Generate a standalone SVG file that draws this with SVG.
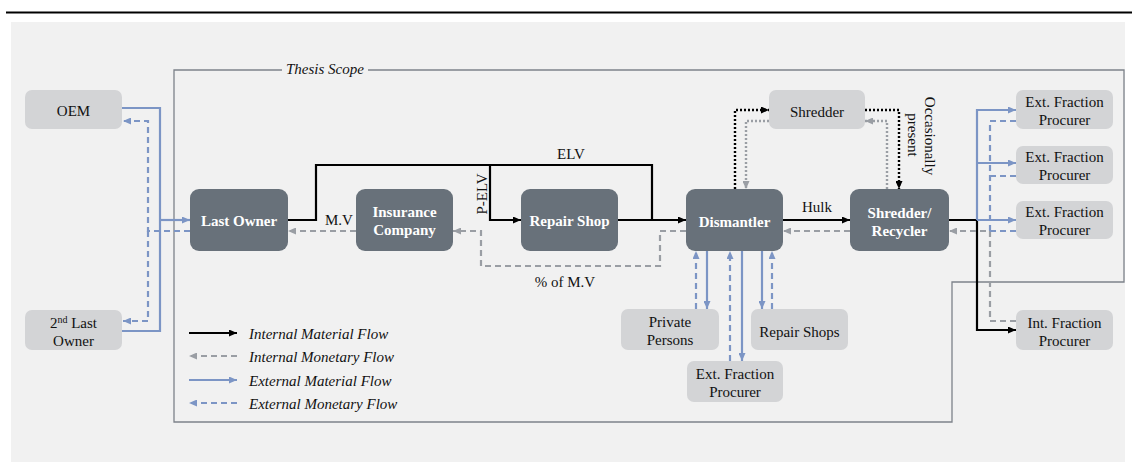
<svg xmlns="http://www.w3.org/2000/svg" width="1132" height="462" viewBox="0 0 1132 462">
<style>
text{font-family:"Liberation Serif","Times New Roman",serif;font-size:15px;fill:#111;}
.dk rect{fill:#68717a;}
.dk text{fill:#fff;font-weight:bold;text-anchor:middle;}
.lt rect{fill:#d3d4d6;}
.lt text{text-anchor:middle;}
.lbl{text-anchor:middle;}
.it{font-style:italic;}
.k{fill:none;stroke:#000;stroke-width:2.2;}
.g{fill:none;stroke:#9a9ea4;stroke-width:2.2;stroke-dasharray:6 4;}
.b{fill:none;stroke:#7c95c5;stroke-width:2.2;}
.bd{fill:none;stroke:#7c95c5;stroke-width:2.2;stroke-dasharray:6 4;}
.kd{fill:none;stroke:#000;stroke-width:2.4;stroke-dasharray:2 2;}
.gd{fill:none;stroke:#9a9ea4;stroke-width:2.4;stroke-dasharray:2 2;}
</style>
<defs>
<marker id="ak" viewBox="0 0 8 7" refX="8" refY="3.5" markerWidth="8" markerHeight="7" markerUnits="userSpaceOnUse" orient="auto"><path d="M0,0 L8,3.5 L0,7 z" fill="#000"/></marker>
<marker id="ag" viewBox="0 0 8 7" refX="8" refY="3.5" markerWidth="8" markerHeight="7" markerUnits="userSpaceOnUse" orient="auto"><path d="M0,0 L8,3.5 L0,7 z" fill="#9a9ea4"/></marker>
<marker id="ab" viewBox="0 0 8 7" refX="8" refY="3.5" markerWidth="8" markerHeight="7" markerUnits="userSpaceOnUse" orient="auto"><path d="M0,0 L8,3.5 L0,7 z" fill="#7c95c5"/></marker>
</defs>
<rect x="0" y="0" width="1132" height="462" fill="#ffffff"/>
<line x1="6" y1="12.5" x2="1132" y2="12.5" stroke="#000" stroke-width="2.2"/>
<rect x="11" y="22" width="1114" height="440" fill="#f1f1f1"/>
<path d="M368,70 H1124 V282 H952 V422 H174 V70 H282" fill="none" stroke="#7d838a" stroke-width="1.3"/>
<text x="325" y="74" class="lbl it">Thesis Scope</text>

<g id="connectors">
<path class="b" d="M122,108 H160 V331 H122"/>
<path class="b" d="M160,220 H190" marker-end="url(#ab)"/>
<path class="bd" d="M190,231 H148 V121 H123" marker-end="url(#ab)"/>
<path class="bd" d="M148,231 V321 H123" marker-end="url(#ab)"/>

<path class="k" d="M288,220 H316 V165 H652 V220"/>
<path class="k" d="M490,165 V220 H521" marker-end="url(#ak)"/>
<path class="k" d="M618,220 H686" marker-end="url(#ak)"/>
<path class="k" d="M783,220 H850" marker-end="url(#ak)"/>
<path class="k" d="M949,220 H977 V330 H1016" marker-end="url(#ak)"/>

<path class="g" d="M356,231 H288" marker-end="url(#ag)"/>
<path class="g" d="M686,231 H660 V266 H481 V231 H453" marker-end="url(#ag)"/>
<path class="g" d="M850,231 H783" marker-end="url(#ag)"/>
<path class="g" d="M1016,321 H990 V231 H949" marker-end="url(#ag)"/>

<path class="b" d="M977,220 V110 H1016" marker-end="url(#ab)"/>
<path class="b" d="M977,163 H1016" marker-end="url(#ab)"/>
<path class="b" d="M977,220 H1016" marker-end="url(#ab)"/>
<path class="bd" d="M1016,121 H990 V231"/>
<path class="bd" d="M1016,176 H990"/>
<path class="bd" d="M1016,231 H990"/>

<path class="kd" d="M735,189 V110 H769" marker-end="url(#ak)"/>
<path class="kd" d="M865,110 H899 V189" marker-end="url(#ak)"/>
<path class="gd" d="M887,189 V121 H865" marker-end="url(#ag)"/>
<path class="gd" d="M769,121 H746 V189" marker-end="url(#ag)"/>

<path class="bd" d="M696,309 V251" marker-end="url(#ab)"/>
<path class="b" d="M707,251 V309" marker-end="url(#ab)"/>
<path class="bd" d="M730,361 V251" marker-end="url(#ab)"/>
<path class="b" d="M742,251 V361" marker-end="url(#ab)"/>
<path class="b" d="M762,251 V309" marker-end="url(#ab)"/>
<path class="bd" d="M772,309 V251" marker-end="url(#ab)"/>

<text x="571" y="159" class="lbl">ELV</text>
<text x="339" y="225" class="lbl">M.V</text>
<text x="565" y="287" class="lbl">% of M.V</text>
<text x="817" y="212" class="lbl">Hulk</text>
<text class="lbl" transform="translate(487,194) rotate(-90)">P-ELV</text>
<text class="lbl" transform="translate(925,136) rotate(90)">Occasionally</text>
<text class="lbl" transform="translate(908,135) rotate(90)">present</text>
</g>

<g id="oem" class="lt"><rect x="25" y="90" width="97" height="39" rx="7"/><text x="73.5" y="116">OEM</text></g>
<g id="second-last-owner" class="lt"><rect x="25" y="310" width="97" height="40" rx="7"/><text x="73.5" y="328">2<tspan font-size="10" dy="-5">nd</tspan><tspan dy="5"> Last</tspan></text><text x="73.5" y="346">Owner</text></g>
<g id="last-owner" class="dk"><rect x="190" y="189" width="98" height="62" rx="9"/><text x="239" y="226">Last Owner</text></g>
<g id="insurance" class="dk"><rect x="356" y="189" width="97" height="62" rx="9"/><text x="404.5" y="217">Insurance</text><text x="404.5" y="235">Company</text></g>
<g id="repair-shop" class="dk"><rect x="521" y="189" width="97" height="62" rx="9"/><text x="569.5" y="226">Repair Shop</text></g>
<g id="dismantler" class="dk"><rect x="686" y="189" width="97" height="62" rx="9"/><text x="734.5" y="227">Dismantler</text></g>
<g id="shredder-recycler" class="dk"><rect x="850" y="189" width="99" height="62" rx="9"/><text x="899.5" y="218">Shredder/</text><text x="899.5" y="236">Recycler</text></g>
<g id="shredder" class="lt"><rect x="769" y="90" width="96" height="39" rx="7"/><text x="817" y="117">Shredder</text></g>
<g id="ext-fp-1" class="lt"><rect x="1016" y="90" width="97" height="39" rx="7"/><text x="1064.5" y="107">Ext. Fraction</text><text x="1064.5" y="125">Procurer</text></g>
<g id="ext-fp-2" class="lt"><rect x="1016" y="146" width="97" height="38" rx="7"/><text x="1064.5" y="162">Ext. Fraction</text><text x="1064.5" y="180">Procurer</text></g>
<g id="ext-fp-3" class="lt"><rect x="1016" y="201" width="97" height="38" rx="7"/><text x="1064.5" y="217">Ext. Fraction</text><text x="1064.5" y="235">Procurer</text></g>
<g id="int-fp" class="lt"><rect x="1016" y="310" width="97" height="40" rx="7"/><text x="1064.5" y="328">Int. Fraction</text><text x="1064.5" y="346">Procurer</text></g>
<g id="private-persons" class="lt"><rect x="621" y="309" width="98" height="41" rx="7"/><text x="670" y="327">Private</text><text x="670" y="345">Persons</text></g>
<g id="repair-shops" class="lt"><rect x="751" y="309" width="97" height="41" rx="7"/><text x="799.5" y="337">Repair Shops</text></g>
<g id="ext-fp-bottom" class="lt"><rect x="687" y="361" width="96" height="41" rx="7"/><text x="735" y="379">Ext. Fraction</text><text x="735" y="397">Procurer</text></g>

<g id="legend">
<path class="k" d="M189,333 H237" marker-end="url(#ak)"/>
<path class="g" d="M237,356 H189" marker-end="url(#ag)"/>
<path class="b" d="M189,380 H237" marker-end="url(#ab)"/>
<path class="bd" d="M237,403 H189" marker-end="url(#ab)"/>
<text x="249" y="339" class="it">Internal Material Flow</text>
<text x="249" y="362" class="it">Internal Monetary Flow</text>
<text x="249" y="386" class="it">External Material Flow</text>
<text x="249" y="409" class="it">External Monetary Flow</text>
</g>
</svg>
